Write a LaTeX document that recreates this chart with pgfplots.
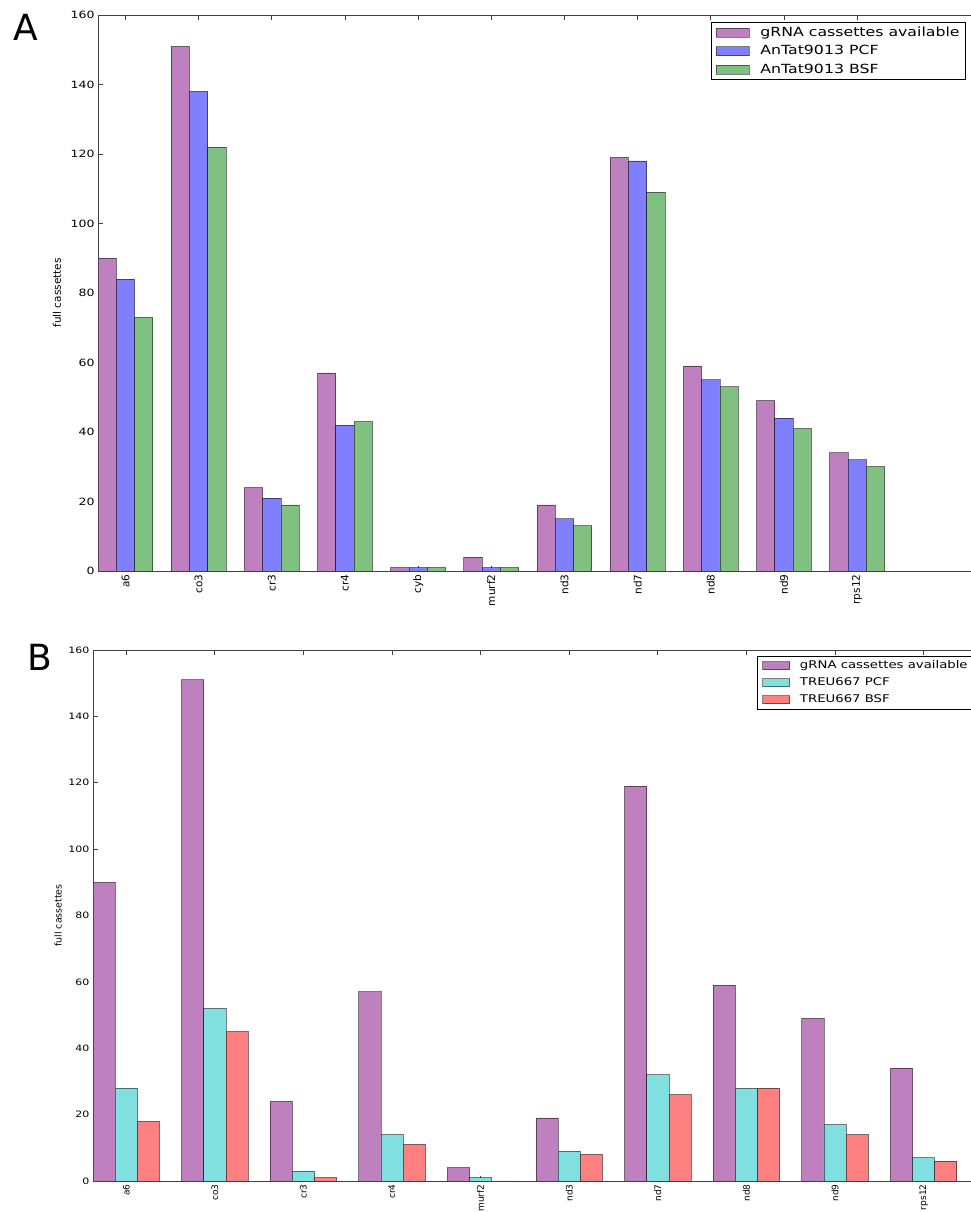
\documentclass[border=0pt]{standalone}
\usepackage{pgfplots}
\pgfplotsset{compat=1.18}
\usepackage{pgfplotstable}
\usepackage{fontspec}
\setmainfont{DejaVu Sans}
\newfontfamily\wide{DejaVu Sans}[FakeStretch=1.25]

\definecolor{cpur}{HTML}{BF80BF}
\definecolor{cblu}{HTML}{8080FF}
\definecolor{cgrn}{HTML}{80C080}
\definecolor{ccya}{HTML}{80DFDF}
\definecolor{cred}{HTML}{FF8080}

\pgfplotstableread{
idx gRNA PCF BSF
0 90 84 73
1 151 138 122
2 24 21 19
3 57 42 43
4 1 1 1
5 4 1 1
6 19 15 13
7 119 118 109
8 59 55 53
9 49 44 41
10 34 32 30
}\tabA

\pgfplotstableread{
idx gRNA PCF BSF
0 90 28 18
1 151 52 45
2 24 3 1
3 57 14 11
4 4 1 0
5 19 9 8
6 119 32 26
7 59 28 28
8 49 17 14
9 34 7 6
}\tabB

\pgfplotsset{
  mystyle/.style={
    scale only axis,
    ymin=0, ymax=160, ytick={0,20,40,60,80,100,120,140,160},
    axis line style={black!75, line width=0.8bp},
    tick style={black!75, line width=0.8bp},
    tick align=inside, major tick length=5bp,
    /pgf/number format/assume math mode=true,
    xticklabel style={rotate=90, anchor=east},
    ylabel={full cassettes},
    legend cell align=left,
  },
  mybar/.style={ybar, bar width=0.25, bar shift=0pt, draw=black, draw opacity=0.5, line width=0.8bp, fill=#1},
}

\begin{document}
\begin{tikzpicture}
\path[use as bounding box] (0bp,0bp) rectangle (971bp,1212bp);

\begin{axis}[mystyle,
  at={(98bp,641bp)}, anchor=south west,
  width=878bp, height=556bp,
  xmin=0, xmax=12,
  xtick={0.375,1.375,2.375,3.375,4.375,5.375,6.375,7.375,8.375,9.375,10.375},
  xticklabels={a6,co3,cr3,cr4,cyb,murf2,nd3,nd7,nd8,nd9,rps12},
  xticklabel style={font=\fontsize{10.5bp}{12bp}\selectfont},
  yticklabel style={font=\wide\fontsize{10bp}{12bp}\selectfont},
  ylabel style={at={(axis description cs:0,0.5)}, anchor=center, yshift=41bp, font=\fontsize{10.5bp}{12bp}\selectfont},
  legend image code/.code={\draw[#1] (0bp,-4.5bp) rectangle (33bp,4.5bp);},
  legend style={at={(1,1)}, anchor=north east, xshift=-10bp, yshift=-7bp,
    draw=black, line width=0.8bp, font=\wide\fontsize{12.6bp}{14bp}\selectfont,
    inner xsep=4bp, inner ysep=1bp, row sep=0bp,
    /tikz/every odd column/.append style={column sep=9bp},
    nodes={inner ysep=1.25bp, text height=11.5bp, text depth=4.5bp}},
]
\addplot[mybar=cpur] table[x expr=\thisrow{idx}+0.125, y=gRNA] {\tabA};
\addplot[mybar=cblu] table[x expr=\thisrow{idx}+0.375, y=PCF] {\tabA};
\addplot[mybar=cgrn] table[x expr=\thisrow{idx}+0.625, y=BSF] {\tabA};
\legend{gRNA cassettes available, AnTat9013 PCF, AnTat9013 BSF}
\end{axis}

\begin{axis}[mystyle,
  at={(93bp,31bp)}, anchor=south west,
  width=886bp, height=531bp,
  xmin=0, xmax=10,
  xtick={0.375,1.375,2.375,3.375,4.375,5.375,6.375,7.375,8.375,9.375},
  xticklabels={a6,co3,cr3,cr4,murf2,nd3,nd7,nd8,nd9,rps12},
  xticklabel style={font=\fontsize{9bp}{10bp}\selectfont},
  yticklabel style={font=\wide\fontsize{8.8bp}{10bp}\selectfont},
  ylabel style={at={(axis description cs:0,0.5)}, anchor=center, yshift=35bp, font=\fontsize{9.4bp}{11bp}\selectfont},
  legend image code/.code={\draw[#1] (0bp,-4bp) rectangle (27bp,4bp);},
  legend style={at={(1,1)}, anchor=north east, xshift=-4bp, yshift=-6bp,
    draw=black, line width=0.8bp, font=\wide\fontsize{10.6bp}{12bp}\selectfont,
    inner xsep=5bp, inner ysep=1bp, row sep=0bp,
    /tikz/every odd column/.append style={column sep=8bp},
    nodes={inner ysep=1bp, text height=10.5bp, text depth=4.5bp}},
]
\addplot[mybar=cpur] table[x expr=\thisrow{idx}+0.125, y=gRNA] {\tabB};
\addplot[mybar=ccya] table[x expr=\thisrow{idx}+0.375, y=PCF] {\tabB};
\addplot[mybar=cred] table[x expr=\thisrow{idx}+0.625, y=BSF] {\tabB};
\legend{gRNA cassettes available, TREU667 PCF, TREU667 BSF}
\end{axis}

\node[font=\fontsize{36bp}{40bp}\selectfont] at (26bp,1185bp) {A};
\node[font=\fontsize{36bp}{40bp}\selectfont] at (40bp,555bp) {B};
\end{tikzpicture}
\end{document}
